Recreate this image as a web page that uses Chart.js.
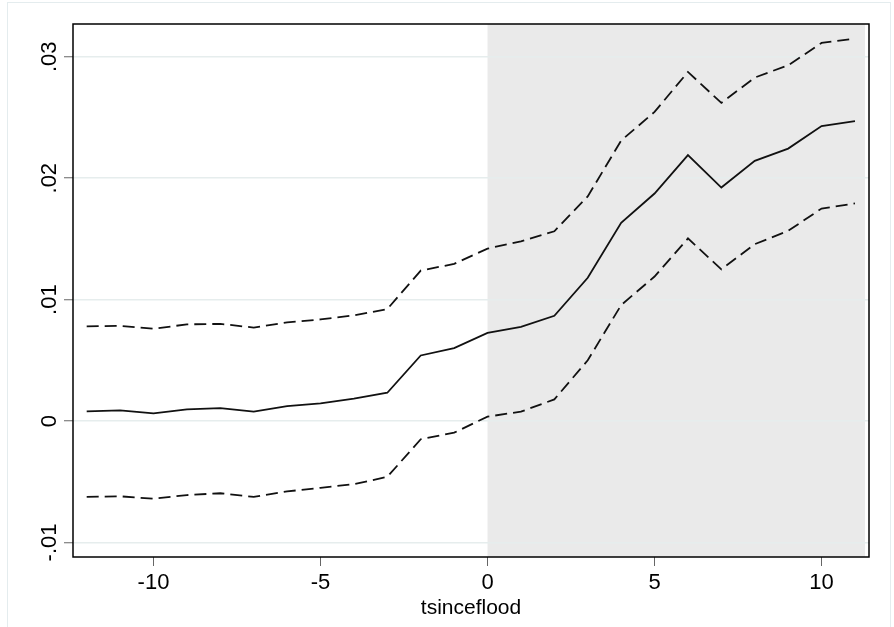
<!DOCTYPE html>
<html>
<head>
<meta charset="utf-8">
<script src="https://cdn.jsdelivr.net/npm/chart.js@4.4.1/dist/chart.umd.min.js"></script>
<style>
  html, body { margin: 0; padding: 0; background: #fff; }
  #wrap { position: relative; width: 894px; height: 627px; }
</style>
</head>
<body>
<div id="wrap"><canvas id="chart" width="894" height="627"></canvas></div>
<script>
// years relative to the flood
const tsinceflood = [-12, -11, -10, -9, -8, -7, -6, -5, -4, -3, -2, -1, 0, 1, 2, 3, 4, 5, 6, 7, 8, 9, 10, 11];

// point estimate and confidence band
const estimate = [0.0008, 0.00088, 0.00063, 0.00096, 0.00107, 0.00077, 0.00123, 0.00145, 0.00184, 0.00233,
                  0.0054, 0.006, 0.00726, 0.00776, 0.00867, 0.0118, 0.01632, 0.01874, 0.0219, 0.01923,
                  0.02143, 0.02244, 0.0243, 0.0247];
const ciUpper = [0.0078, 0.00784, 0.0076, 0.00796, 0.008, 0.0077, 0.00812, 0.00837, 0.0087, 0.00922,
                 0.01239, 0.01294, 0.0142, 0.0148, 0.01563, 0.0185, 0.0231, 0.02546, 0.02875, 0.0262,
                 0.02829, 0.0293, 0.03114, 0.0315];
const ciLower = [-0.00625, -0.0062, -0.0064, -0.0061, -0.00595, -0.00625, -0.0058, -0.0055, -0.0052, -0.0046,
                 -0.0015, -0.00096, 0.00036, 0.00077, 0.00178, 0.005, 0.00955, 0.0119, 0.01504, 0.01249,
                 0.01457, 0.01566, 0.0175, 0.01792];

const xTicks = [-10, -5, 0, 5, 10];
const yTicks = [-0.01, 0, 0.01, 0.02, 0.03];

// post-flood period is shaded
const shadeFrom = 0;
const shadeTo = 11.3;

function toPoints(ys) {
  return tsinceflood.map((t, i) => ({ x: t, y: ys[i] }));
}

// stata style labels: .01, -.01, 0
function stataLabel(v) {
  if (Math.abs(v) < 1e-9) return '0';
  return (v < 0 ? '-' : '') + Math.abs(v).toFixed(2).replace(/^0/, '');
}

const backdrop = {
  id: 'backdrop',
  beforeDraw(chart) {
    const ctx = chart.ctx;
    const area = chart.chartArea;
    const x = chart.scales.x;
    ctx.save();
    ctx.fillStyle = '#fff';
    ctx.fillRect(0, 0, chart.width, chart.height);
    // faint outer frame
    ctx.strokeStyle = '#e4ecee';
    ctx.lineWidth = 1;
    ctx.strokeRect(7.5, 2.5, 883, 640);
    // shaded region
    const x0 = x.getPixelForValue(shadeFrom);
    const x1 = x.getPixelForValue(shadeTo);
    ctx.fillStyle = '#eaeaea';
    ctx.fillRect(x0, area.top, x1 - x0, area.bottom - area.top);
    ctx.restore();
  },
  afterDraw(chart) {
    const ctx = chart.ctx;
    const a = chart.chartArea;
    ctx.save();
    ctx.strokeStyle = '#000';
    ctx.lineWidth = 1.5;
    ctx.strokeRect(a.left, a.top, a.right - a.left, a.bottom - a.top);
    ctx.restore();
  }
};

Chart.defaults.font.family = '"Liberation Sans", Arial, Helvetica, sans-serif';
Chart.defaults.color = '#000';

const lineStyle = { borderColor: '#111', borderWidth: 1.8, pointRadius: 0, tension: 0 };

const ctx = document.getElementById('chart').getContext('2d');
new Chart(ctx, {
  type: 'line',
  data: {
    datasets: [
      Object.assign({ label: 'estimate', data: toPoints(estimate) }, lineStyle),
      Object.assign({ label: 'upper', data: toPoints(ciUpper), borderDash: [12, 6] }, lineStyle),
      Object.assign({ label: 'lower', data: toPoints(ciLower), borderDash: [12, 6] }, lineStyle)
    ]
  },
  options: {
    responsive: false,
    animation: false,
    devicePixelRatio: 1,
    layout: { padding: { top: 24, right: 25, left: 0, bottom: 6 } },
    plugins: {
      legend: { display: false },
      tooltip: { enabled: false }
    },
    scales: {
      x: {
        type: 'linear',
        min: -12.41,
        max: 11.42,
        afterBuildTicks: scale => { scale.ticks = xTicks.map(v => ({ value: v })); },
        afterFit: scale => { scale.height = 64; },
        ticks: { font: { size: 22 }, padding: 4, maxRotation: 0 },
        grid: { drawOnChartArea: false, tickLength: 9, tickColor: '#666', tickWidth: 1 },
        border: { display: false },
        title: { display: true, text: 'tsinceflood', font: { size: 21 }, padding: { top: 0, bottom: 0 } }
      },
      y: {
        type: 'linear',
        min: -0.0112,
        max: 0.0327,
        afterBuildTicks: scale => { scale.ticks = yTicks.map(v => ({ value: v })); },
        afterFit: scale => { scale.width = 73; },
        ticks: {
          font: { size: 22 },
          minRotation: 90,
          maxRotation: 90,
          crossAlign: 'center',
          padding: -5,
          callback: v => stataLabel(v)
        },
        grid: { color: '#e6eded', lineWidth: 1.5, tickLength: 9, tickColor: '#666', tickWidth: 1 },
        border: { display: false }
      }
    }
  },
  plugins: [backdrop]
});
</script>
</body>
</html>
